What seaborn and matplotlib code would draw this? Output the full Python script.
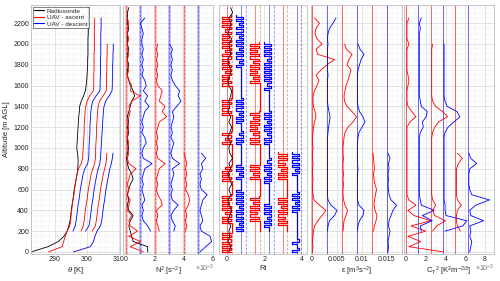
import numpy as np
import matplotlib
matplotlib.use('Agg')
import matplotlib.pyplot as plt
import seaborn as sns
from matplotlib.lines import Line2D
from matplotlib.ticker import MultipleLocator

# altitude grid [m AGL] shared by the profiles
ALT = [0, 50, 100, 150, 200, 250, 300, 350, 400, 450, 500, 550, 600, 650, 700, 750,
       800, 850, 900, 950, 1000, 1050, 1100, 1150, 1200, 1250, 1300, 1350, 1400, 1450,
       1500, 1550, 1600, 1650, 1700, 1750, 1800, 1850, 1900, 1950, 2000, 2050, 2100,
       2150, 2200, 2250, 2300, 2350]
# finer grid used for the Richardson number
ALT_RI = [0, 20, 40, 60, 80, 100, 120, 140, 160, 180, 200, 220, 240, 260, 280, 300,
          320, 340, 360, 380, 400, 420, 440, 460, 480, 500, 520, 540, 560, 580, 600,
          620, 640, 660, 680, 700, 720, 740, 760, 780, 800, 820, 840, 860, 880, 900,
          920, 940, 960, 980, 1000, 1020, 1040, 1060, 1080, 1100, 1120, 1140, 1160,
          1180, 1200, 1220, 1240, 1260, 1280, 1300, 1320, 1340, 1360, 1380, 1400, 1420,
          1440, 1460, 1480, 1500, 1520, 1540, 1560, 1580, 1600, 1620, 1640, 1660, 1680,
          1700, 1720, 1740, 1760, 1780, 1800, 1820, 1840, 1860, 1880, 1900, 1920, 1940,
          1960, 1980, 2000, 2020, 2040, 2060, 2080, 2100, 2120, 2140, 2160, 2180, 2200,
          2220, 2240, 2260, 2280, 2300, 2320, 2340, 2360]
# index range of ALT / ALT_RI covered by each profile
SPAN = {'sonde': (0, 48), 'red1': (0, 46), 'blue1': (4, 46), 'red2': (4, 41),
        'blue2': (4, 41), 'red3': (4, 20), 'blue3': (0, 20)}
SPAN_RI = {'red1': (0, 115), 'blue1': (10, 115), 'red2': (10, 102), 'blue2': (10, 102),
           'red3': (10, 49), 'blue3': (0, 49)}

# potential temperature [K] (as plotted, profiles shifted)
theta_sonde = [282.5, 287.8, 291.0, 292.8, 293.8, 294.3, 294.7, 294.9, 295.1, 295.3,
               295.6, 295.8, 296.0, 296.3, 296.6, 296.9, 297.1, 297.2, 297.2, 297.0,
               296.8, 296.9, 297.0, 297.1, 297.2, 297.3, 297.4, 297.6, 297.7, 298.2,
               298.9, 299.5, 299.7, 299.9, 300.0, 300.1, 300.2, 300.2, 300.3, 300.3,
               300.3, 300.3, 300.4, 300.4, 300.4, 300.5, 300.5, 300.6]
theta_red1 = [288.0, 292.2, 292.7, 293.2, 293.8, 294.6, 294.9, 295.0, 295.2, 295.4,
              295.6, 295.9, 296.1, 296.3, 296.6, 296.9, 297.3, 298.2, 298.6, 298.7,
              298.8, 298.9, 299.0, 299.1, 299.1, 299.2, 299.3, 299.4, 299.6, 300.0,
              300.8, 302.0, 302.1, 302.1, 302.1, 302.2, 302.2, 302.2, 302.2, 302.3,
              302.3, 302.3, 302.3, 302.3, 302.4, 302.4]
theta_blue1 = [295.6, 296.3, 296.6, 296.8, 297.0, 297.2, 297.5, 297.7, 297.9, 298.2,
               298.5, 298.8, 299.3, 300.2, 300.5, 300.6, 300.6, 300.7, 300.8, 300.9,
               300.9, 301.0, 301.1, 301.2, 301.4, 301.8, 302.8, 304.0, 304.1, 304.1,
               304.2, 304.2, 304.2, 304.2, 304.3, 304.3, 304.3, 304.3, 304.3, 304.4,
               304.4, 304.4]
theta_red2 = [298.2, 298.8, 299.1, 299.3, 299.5, 299.7, 300.0, 300.2, 300.4, 300.7,
              301.0, 301.3, 301.8, 302.4, 302.6, 302.7, 302.7, 302.8, 302.9, 303.0,
              303.0, 303.1, 303.2, 303.3, 303.5, 303.9, 305.0, 306.0, 306.1, 306.1,
              306.1, 306.2, 306.2, 306.2, 306.3, 306.3, 306.3]
theta_blue2 = [299.5, 300.6, 300.9, 301.1, 301.3, 301.5, 301.8, 302.0, 302.2, 302.5,
               302.8, 303.1, 303.5, 304.0, 304.2, 304.3, 304.4, 304.5, 304.6, 304.7,
               304.8, 304.9, 305.0, 305.1, 305.3, 305.8, 306.9, 307.8, 307.9, 307.9,
               308.0, 308.0, 308.0, 308.1, 308.1, 308.2, 308.2]
theta_red3 = [301.6, 302.6, 302.9, 303.1, 303.3, 303.5, 303.8, 304.0, 304.2, 304.5,
              304.8, 305.1, 305.5, 305.9, 306.1, 306.2]
theta_blue3 = [295.8, 301.0, 302.0, 302.5, 303.1, 304.2, 304.6, 304.8, 305.0, 305.2,
               305.5, 305.7, 305.9, 306.2, 306.5, 306.8, 307.1, 307.6, 307.9, 308.1]

# N^2 [1e-4 s^-2]
n2_sonde = [15, 15, 5, 4, 3, 2, 3, 5, 2, 1, 2, 1, 2, 3, 5, 4, 2, 1, 0.5, 1, 2, 1, 1, 2,
            1, 2, 1, 2, 3, 4, 6, 5, 3, 2, 1, 1, 2, 1, 1, 2, 1, 1, 1, 2, 1, 1, 1, 2]
n2_red1 = [12, 3, 10, 2, 8, 3, 2, 4, 1, 2, 3, 1, 2, 1, 2, 3, 7, 2, 1, 2, 1, 2, 1, 1, 2,
           1, 2, 3, 2, 4, 10, 3, 4, 2, 1, 2, 1, 1, 2, 1, 1, 2, 1, 1, 2, 1]
n2_blue1 = [7, 5, 2, 1, 2, 1, 3, 2, 1, 2, 1, 2, 3, 8, 2, 1, 2, 4, 3, 1, 2, 1, 2, 3, 6,
            3, 5, 2, 4, 3, 1, 2, 1, 2, 1, 2, 1, 1, 2, 1, 0, 3]
n2_red2 = [3, 2, 1, 2, 1, 5, 4, 2, 1, 2, 1, 2, 3, 7, 2, 1, 2, 1, 2, 1, 2, 3, 8, 5, 7,
           3, 4, 5, 2, 1, 2, 1, 2, 1, 2, 1, 2]
n2_blue2 = [3, 4, 2, 1, 3, 6, 2, 1, 2, 1, 2, 3, 2, 7, 2, 1, 2, 3, 1, 2, 1, 2, 3, 2, 5,
            8, 6, 7, 4, 2, 1, 2, 1, 2, 1, 2, 0]
n2_red3 = [1, 2, 1, 2, 1, 3, 4, 3, 1, 2, 1, 2, 1, 2, 1, 0]
n2_blue3 = [1, 5, 9, 8, 2, 1, 3, 2, 1, 2, 3, 6, 2, 1, 2, 1, 3, 2, 5, 2]

# Richardson number: radiosonde values, UAV profiles as clipped levels per 20 m
ri_sonde = [0.1, 0.2, 0.05, 0.15, 0.1, 0.2, 0.05, 0.15, 0.25, 0.1, 0.05, 0.2, 0.1, 0.25,
            0.15, 0.05, 0.2, 0.1, 0.3, 0.15, 0.1, 0.2, 0.05, 0.15, 0.25, 0.1, 0.2, 0.05,
            0.15, 0.1, 0.2, 0.25, 0.1, 0.05, 0.15, 0.2, 0.1, 0.05, 0.2, 0.15, 0.1, 0.25,
            0.05, 0.15, 0.2, 0.1, 0.3, 0.2]
RI_LEVEL = {'H': 0.22, 'h': 0.12, 'M': 0.1, 'Z': 0.0, 'l': -0.1, 'L': -0.25, 'S': 0.25}
ri_red1 = list('HLHLHLHLHL' 'SSSSS' 'LHLHlHLHLhLHLH' 'SSSSSS' 'LHLhLHlH' 'SSSSSSSSSS'
               'LHlHLH' 'SSSSSSSS' 'LHLhLHLH' 'SSSSSS'
               'LHLhLHlHLHLhLHLHlHLHLHLhLHlHLHLHLH')
ri_blue1 = list('LMLMlMLMLMLMlMLMLMLML' 'ZZZZZ' 'LMlMLML' 'ZZZZZZZZZZ' 'LMLMlM' 'ZZZZ'
                'LMLMlMLMLMLM' 'ZZZZZZZ' 'ZZZZZZZZ' 'LMlMLMLMlMLMLMlMLMLMlMLML')
ri_red2 = list('SSSSSS' 'LHLhLHLHlHLH' 'SSSSSSSS' 'LHlHLHL' 'SSSSSSSSSS'
               'LHLHlHLhLHLHlHLH' 'SSSSSSSSSSSSS' 'LHlHLhLHLHlHLHLhLHLH')
ri_blue2 = list('ZZZ' 'LMLMlMLMLML' 'ZZZZZZZZZZ' 'LMLMlMLMLMlM' 'ZZZZZZZ'
                'LMLMlMLMLMlMLMLM' 'ZZZZZZZZZZ' 'LMlMLMLMLM' 'LMLMlMLMLMLML')
ri_red3 = list('SSSS' 'LHLhLHLHlHLHL' 'SSSSSSSSS' 'LHLHlHLhLHLHL')
ri_blue3 = list('ZLMZZLMZZ' 'ZZZZZZZZZZZ' 'LMLMlMLMLM' 'ZZZZZZZZ' 'LMlMLMLMLML')

# dissipation rate [1e-4 m^2 s^-3]
eps_red1 = [1, 2, 1, 2, 3, 5, 12, 20, 28, 15, 4, 2, 1, 1, 2, 1, 1, 2, 1, 1, 2, 1, 1, 2,
            3, 5, 8, 6, 3, 2, 2, 5, 10, 14, 8, 18, 30, 45, 12, 8, 20, 10, 6, 8, 15, 5]
eps_blue1 = [1, 2, 5, 15, 20, 8, 2, 1, 1, 1, 1, 1, 1, 1, 1, 1, 1, 1, 1, 2, 3, 5, 6, 4,
             2, 1, 1, 1, 1, 1, 2, 1, 1, 1, 1, 1, 2, 1, 2, 5, 12, 18]
eps_red2 = [2, 3, 4, 8, 11, 6, 3, 2, 2, 3, 2, 3, 2, 2, 3, 2, 2, 3, 4, 6, 12, 22, 29, 20,
            10, 5, 4, 6, 8, 12, 15, 18, 10, 14, 20, 9, 5]
eps_blue2 = [1, 2, 5, 12, 14, 4, 1, 1, 1, 1, 1, 1, 2, 1, 1, 1, 1, 1, 2, 4, 10, 16, 12, 5,
             2, 1, 1, 1, 1, 1, 1, 2, 5, 8, 14, 6, 2]
eps_red3 = [3, 5, 8, 10, 6, 4, 5, 7, 9, 6, 4, 3, 5, 4, 3, 2]
eps_blue3 = [2, 3, 2, 4, 6, 3, 4, 8, 12, 19, 8, 4, 3, 2, 3, 2, 4, 3, 6, 2]

# temperature structure parameter [1e-4 K^2 m^-2/3]
ct_red1 = [38, 3, 15, 2, 20, 5, 25, 8, 2, 10, 3, 1, 1, 1, 1, 1, 1, 1, 1, 1, 1, 1, 1, 1,
           1, 4, 10, 6, 2, 1, 1, 1, 2, 3, 2, 1, 1, 1, 1, 1, 3, 1, 1, 1, 1, 3]
ct_blue1 = [3, 2, 14, 4, 16, 3, 2, 1, 1, 1, 1, 1, 1, 1, 1, 1, 1, 1, 1, 2, 5, 4, 8, 9, 3,
            2, 1, 1, 1, 1, 1, 1, 1, 1, 1, 1, 1, 1, 1, 2, 1, 3]
ct_red2 = [2, 6, 15, 4, 2, 5, 2, 1, 1, 1, 1, 1, 1, 1, 1, 1, 1, 1, 1, 2, 4, 8, 17, 12, 5,
           2, 1, 1, 1, 1, 1, 1, 1, 1, 1, 1, 2]
ct_blue2 = [2, 20, 24, 3, 2, 2, 1, 1, 1, 1, 1, 1, 1, 1, 1, 1, 1, 1, 1, 2, 5, 11, 17, 14,
            4, 2, 1, 1, 1, 1, 1, 1, 1, 1, 1, 1, 1]
ct_red3 = [5, 2, 1, 1, 2, 6, 2, 1, 1, 1, 1, 1, 1, 3, 7, 2]
ct_blue3 = [2, 3, 4, 2, 3, 2, 16, 3, 2, 8, 22, 4, 2, 1, 1, 1, 2, 9, 3, 1]

COLORS = {'sonde': 'black', 'red1': '#ff0000', 'blue1': '#0000ff', 'red2': '#ff0000',
          'blue2': '#0000ff', 'red3': '#ff0000', 'blue3': '#0000ff'}
UAV = ['red1', 'blue1', 'red2', 'blue2', 'red3', 'blue3']

sns.set_theme(style='whitegrid')
plt.rcParams['font.family'] = ['Liberation Sans', 'DejaVu Sans']
plt.rcParams['mathtext.fontset'] = 'custom'
plt.rcParams['mathtext.rm'] = 'Liberation Sans'
plt.rcParams['mathtext.it'] = 'Liberation Sans:italic'
plt.rcParams['mathtext.default'] = 'regular'

fig = plt.figure(figsize=(5, 2.81), dpi=100)
bounds = [(31, 120), (123, 213), (219, 307), (311, 402), (404, 494)]
top_px, bot_px = 5, 254
axes = [fig.add_axes([x0 / 500, (281 - bot_px) / 281, (x1 - x0) / 500,
                      (bot_px - top_px) / 281]) for x0, x1 in bounds]


def profile(ax, key, vals, scale=1.0, offset=0.0):
    i0, i1 = SPAN[key]
    x = np.asarray(vals, dtype=float) * scale + offset
    sns.lineplot(x=x, y=ALT[i0:i1], sort=False, estimator=None, color=COLORS[key],
                 lw=0.6, ax=ax)


# panel 1: theta
ax = axes[0]
profile(ax, 'sonde', theta_sonde)
for key, vals in zip(UAV, [theta_red1, theta_blue1, theta_red2, theta_blue2,
                          theta_red3, theta_blue3]):
    profile(ax, key, vals)
ax.set_xlim(282.5, 310.3)
ax.set_xticks([290, 300, 310])
ax.xaxis.set_minor_locator(MultipleLocator(2))
ax.set_xlabel(r'$\it{\theta}$ [K]')
ax.set_ylabel('Altitude [m AGL]', labelpad=2)
handles = [Line2D([], [], color='black', lw=0.8), Line2D([], [], color='#ff0000', lw=0.8),
           Line2D([], [], color='#0000ff', lw=0.8)]
leg = ax.legend(handles, ['Radiosonde', 'UAV - ascent', 'UAV - descent'],
                loc='upper left', fontsize=4.6, frameon=True, fancybox=False,
                borderaxespad=0.25, handlelength=1.6, handletextpad=0.4,
                borderpad=0.25, labelspacing=0.15)
leg.get_frame().set_edgecolor('#262626')
leg.get_frame().set_linewidth(0.5)

# panel 2: N^2
ax = axes[1]
for k, key in enumerate(UAV):
    ax.axvline(k * 1e-3, color=COLORS[key], lw=2.0, alpha=0.25)
    ax.axvline(k * 1e-3, color=COLORS[key], lw=0.6, alpha=0.5, ls=(0, (3, 2)))
profile(ax, 'sonde', n2_sonde, 1e-4)
for k, (key, vals) in enumerate(zip(UAV, [n2_red1, n2_blue1, n2_red2, n2_blue2,
                                          n2_red3, n2_blue3])):
    profile(ax, key, vals, 1e-4, k * 1e-3)
ax.set_xlim(-0.0002, 0.006)
ax.set_xticks([0, 0.002, 0.004, 0.006], ['0', '2', '4', '6'])
ax.xaxis.set_minor_locator(MultipleLocator(0.0005))
ax.set_xlabel(r'N$^2$ [s$^{-2}$]')

# panel 3: Ri
ax = axes[2]
for k, key in enumerate(UAV):
    ax.axvline(k * 0.75, color=COLORS[key], lw=0.6, alpha=0.55)
    ax.axvline(k * 0.75 + 0.25, color=COLORS[key], lw=0.6, alpha=0.45, ls=(0, (3, 2)))
for k, (key, codes) in enumerate(zip(UAV, [ri_red1, ri_blue1, ri_red2, ri_blue2,
                                           ri_red3, ri_blue3])):
    i0, i1 = SPAN_RI[key]
    x = np.array([RI_LEVEL[c] for c in codes]) + k * 0.75
    ax.plot(x, ALT_RI[i0:i1], color=COLORS[key], lw=0.9, drawstyle='steps-post')
profile(ax, 'sonde', ri_sonde)
ax.set_xlim(-0.43, 4.3)
ax.set_xticks([0, 2, 4])
ax.xaxis.set_minor_locator(MultipleLocator(0.5))
ax.set_xlabel('Ri')

# panel 4: epsilon
ax = axes[3]
for k, key in enumerate(UAV):
    ax.axvline(k * 0.003, color=COLORS[key], lw=0.7, alpha=0.6)
for k, (key, vals) in enumerate(zip(UAV, [eps_red1, eps_blue1, eps_red2, eps_blue2,
                                          eps_red3, eps_blue3])):
    profile(ax, key, vals, 1e-4, k * 0.003)
ax.set_xlim(-0.0002, 0.018)
ax.set_xticks([0, 0.005, 0.01, 0.015], ['0', '0.005', '0.01', '0.015'])
ax.xaxis.set_minor_locator(MultipleLocator(0.001))
ax.set_xlabel(r'$\epsilon$ [m$^3$s$^{-2}$]')

# panel 5: CT2
ax = axes[4]
for k, key in enumerate(UAV):
    ax.axvline(k * 0.00125, color=COLORS[key], lw=0.7, alpha=0.6)
for k, (key, vals) in enumerate(zip(UAV, [ct_red1, ct_blue1, ct_red2, ct_blue2,
                                          ct_red3, ct_blue3])):
    profile(ax, key, vals, 1e-4, k * 0.00125)
ax.set_xlim(-0.0002, 0.0089)
ax.set_xticks([0, 0.002, 0.004, 0.006, 0.008], ['0', '2', '4', '6', '8'])
ax.xaxis.set_minor_locator(MultipleLocator(0.001))
ax.set_xlabel(r'C$_T$$^2$ [K$^2$m$^{-2/3}$]')

for i, ax in enumerate(axes):
    ax.set_ylim(-20, 2375)
    ax.set_yticks(range(0, 2201, 200))
    ax.yaxis.set_minor_locator(MultipleLocator(50))
    ax.grid(which='major', color='#d6d6d6', lw=0.5)
    ax.grid(which='minor', color='#eeeeee', lw=0.35)
    ax.set_axisbelow(True)
    ax.tick_params(which='both', direction='in', length=0, labelsize=5,
                   labelcolor='#262626', pad=1.5)
    ax.xaxis.label.set_size(5.5)
    ax.xaxis.labelpad = 1.5
    ax.yaxis.label.set_size(5.5)
    for s in ax.spines.values():
        s.set_color('#bdbdbd')
        s.set_linewidth(0.6)
    if i > 0:
        ax.tick_params(axis='y', labelleft=False)
        ax.set_ylabel('')

fig.text(205 / 500, 1 - 268 / 281, r'$\times$10$^{-3}$', fontsize=5, color='#6e6e6e',
         ha='center', va='center')
fig.text(485 / 500, 1 - 268 / 281, r'$\times$10$^{-3}$', fontsize=5, color='#6e6e6e',
         ha='center', va='center')

fig.savefig('out.png', dpi=100)
